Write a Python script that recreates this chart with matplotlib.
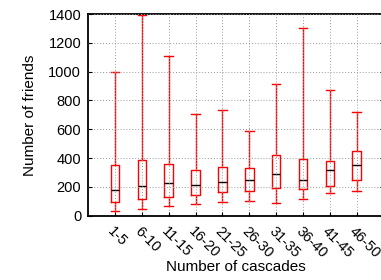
import matplotlib
matplotlib.use("Agg")
import matplotlib.pyplot as plt

plt.rcParams['font.family'] = ['Liberation Sans', 'DejaVu Sans']

categories = ["1-5", "6-10", "11-15", "16-20", "21-25", "26-30", "31-35", "36-40", "41-45", "46-50"]
whisker_low = [30, 49, 65, 79, 95, 100, 86, 114, 155, 171]
q1 = [95, 118, 128, 142, 162, 169, 190, 185, 206, 248]
median = [178, 208, 225, 211, 232, 246, 287, 250, 315, 354]
q3 = [352, 389, 361, 317, 340, 331, 419, 392, 378, 449]
whisker_high = [1000, 1390, 1110, 705, 735, 585, 915, 1305, 870, 718]
y_ticks = [0, 200, 400, 600, 800, 1000, 1200, 1400]

fig = plt.figure(figsize=(3.81, 2.80), dpi=100)
ax = fig.add_axes([0.2314, 0.2296, 0.7752, 0.7204])

stats = []
for i, c in enumerate(categories):
    stats.append(dict(label=c, whislo=whisker_low[i], q1=q1[i], med=median[i],
                      q3=q3[i], whishi=whisker_high[i], fliers=[]))

positions = list(range(1, len(categories) + 1))
ax.bxp(stats, positions=positions, widths=0.32, showfliers=False,
       boxprops=dict(color='red', linewidth=1.0),
       whiskerprops=dict(color='red', linewidth=1.0),
       capprops=dict(color='red', linewidth=1.0),
       medianprops=dict(color='black', linewidth=1.0),
       capwidths=0.32)

ax.set_xlim(0, 11)
ax.set_ylim(0, 1400)
ax.set_yticks(y_ticks)
ax.set_xticks(positions)
ax.set_xticklabels(categories, rotation=-45, ha='left', va='top', rotation_mode='anchor', fontsize=10.5)
ax.tick_params(axis='y', labelsize=10.5, direction='in', right=True, length=3, pad=5)
ax.tick_params(axis='x', direction='in', length=3, pad=6)
ax.grid(True, color='#999999', linestyle=(0, (1, 2)), linewidth=0.7)
ax.set_axisbelow(False)
for s in ['left', 'top', 'bottom']:
    ax.spines[s].set_linewidth(1.3)
ax.spines['right'].set_visible(False)

ax.set_ylabel("Number of friends", fontsize=11, labelpad=8)
ax.set_xlabel("Number of cascades", fontsize=11, labelpad=0)

fig.savefig("out.png", dpi=100)
